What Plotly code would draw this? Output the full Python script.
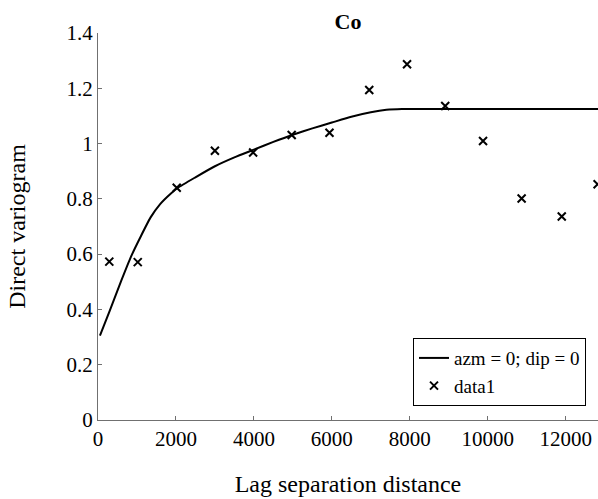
import plotly.graph_objects as go

# Experimental variogram (lag distance, gamma)
lag = [290, 1020, 2020, 3000, 3980, 4970, 5940, 6960, 7930, 8910, 9880, 10870, 11900, 12820]
gamma = [0.573, 0.571, 0.840, 0.974, 0.968, 1.031, 1.039, 1.194, 1.287, 1.136, 1.009, 0.801, 0.736, 0.853]

# Fitted model curve (azm = 0; dip = 0)
model_h = [50, 300, 600, 850, 1100, 1350, 1600, 1850, 2050, 2500, 3000, 3500, 4000,
           4500, 5000, 5500, 6000, 6500, 7000, 7400, 7800, 13000]
model_g = [0.305, 0.395, 0.505, 0.592, 0.665, 0.733, 0.782, 0.817, 0.840, 0.878, 0.918,
           0.950, 0.978, 1.006, 1.032, 1.055, 1.076, 1.097, 1.113, 1.122, 1.125, 1.125]

x_ticks = [0, 2000, 4000, 6000, 8000, 10000, 12000]
y_ticks = [0, 0.2, 0.4, 0.6, 0.8, 1.0, 1.2, 1.4]
y_labels = ["0", "0.2", "0.4", "0.6", "0.8", "1", "1.2", "1.4"]

FONT = "Liberation Serif"
AXIS_GREY = "#707070"

fig = go.Figure()
fig.add_trace(go.Scatter(
    x=model_h, y=model_g, mode="lines", name="azm = 0; dip = 0",
    line=dict(color="black", width=2, shape="spline", smoothing=0.5),
))
fig.add_trace(go.Scatter(
    x=lag, y=gamma, mode="markers", name="data1",
    marker=dict(symbol="x-thin", size=8, color="black", line=dict(width=2, color="black")),
))

fig.update_layout(
    width=598, height=499,
    margin=dict(l=98, r=0, t=33, b=79),
    paper_bgcolor="white", plot_bgcolor="white",
    font=dict(family=FONT, size=21, color="black"),
    title=dict(text="<b>Co</b>", x=0.5, xref="paper", xanchor="center",
               y=1 - 21 / 499, yanchor="middle", font=dict(size=22, family=FONT)),
    showlegend=True,
    legend=dict(x=0.976, y=0.036, xanchor="right", yanchor="bottom",
                bgcolor="white", bordercolor="black", borderwidth=1,
                font=dict(size=19, family=FONT), tracegroupgap=0),
)
fig.update_xaxes(
    range=[0, 12830], tickvals=x_ticks, ticktext=[str(v) for v in x_ticks],
    showgrid=False, zeroline=False, showline=True, linecolor=AXIS_GREY, linewidth=1,
    ticks="inside", ticklen=4, tickcolor=AXIS_GREY,
    title=dict(text="Lag separation distance", font=dict(size=24, family=FONT), standoff=24),
)
fig.update_yaxes(
    range=[0, 1.4], tickvals=y_ticks, ticktext=y_labels,
    showgrid=False, zeroline=False, showline=True, linecolor=AXIS_GREY, linewidth=1,
    ticks="inside", ticklen=4, tickcolor=AXIS_GREY,
    title=dict(text="Direct variogram", font=dict(size=24, family=FONT), standoff=34),
)

fig.write_html("out.html")
